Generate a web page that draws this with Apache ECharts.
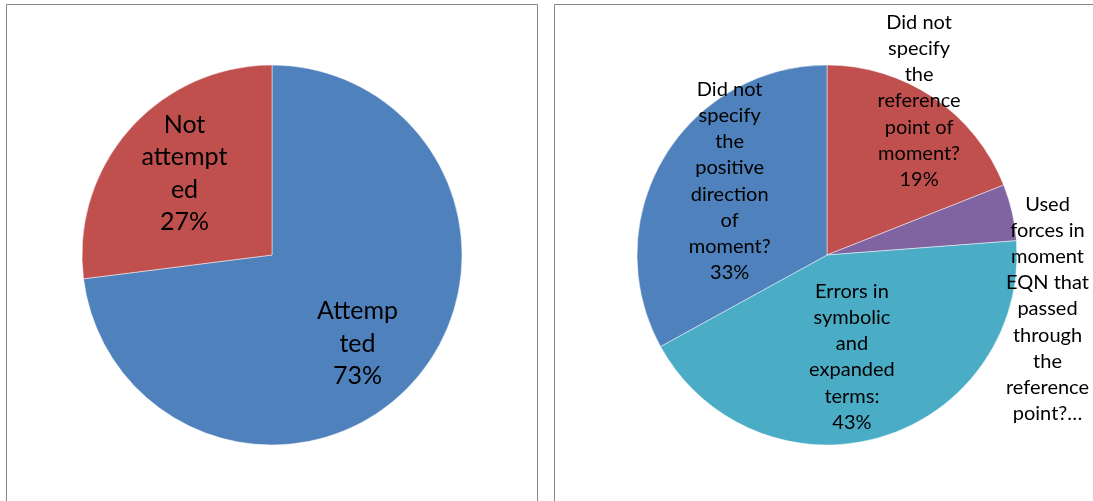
<!DOCTYPE html>
<html><head><meta charset="utf-8">
<script src="https://cdn.jsdelivr.net/npm/echarts@6/dist/echarts.min.js"></script>
<style>html,body{margin:0;padding:0;background:#fff}#c{width:1093px;height:501px}</style>
</head><body><div id="c"></div>
<script>
// Left chart: attempt status
const attemptCategories = ['Attempted', 'Not attempted'];
const attemptValues = [73, 27];
const attemptLabels = ['Attemp\nted', 'Not\nattempt\ned'];
const attemptShowPct = [true, true];

// Right chart: error types
const errorCategories = [
  'Did not specify the reference point of moment?',
  'Used forces in moment EQN that passed through the reference point?',
  'Errors in symbolic and expanded terms:',
  'Did not specify the positive direction of moment?'
];
const errorValues = [19, 4.8, 43.2, 33];
const errorLabels = [
  'Did not\nspecify\nthe\nreference\npoint of\nmoment?',
  'Used\nforces in\nmoment\nEQN that\npassed\nthrough\nthe\nreference\npoint?…',
  'Errors in\nsymbolic\nand\nexpanded\nterms:',
  'Did not\nspecify\nthe\npositive\ndirection\nof\nmoment?'
];
const errorShowPct = [true, false, true, true];

const attemptColors = ['#4F81BD', '#C0504D'];
const errorColors = ['#C0504D', '#8064A2', '#4BACC6', '#4F81BD'];

// label nudges (pixels) relative to ECharts' inside position
const attemptNudge = [[12, 24], [-14, -17]];
const errorNudge = [[37, -73], [125, 76], [-3, 8], [-13, -24]];

function build(cats, vals, labels, showPct, colors) {
  return cats.map((c, i) => ({
    name: c, value: vals[i],
    itemStyle: { color: colors[i] },
    label: { formatter: labels[i] + (showPct[i] ? '\n' + Math.round(vals[i]) + '%' : '') }
  }));
}

const chart = echarts.init(document.getElementById('c'), null, { renderer: 'canvas' });
chart.setOption({
  animation: false,
  backgroundColor: '#fff',
  graphic: [
    { type: 'rect', shape: { x: 6.5, y: 4.5, width: 531, height: 600 }, style: { fill: 'none', stroke: '#878787', lineWidth: 1 } },
    { type: 'rect', shape: { x: 554.5, y: 4.5, width: 600, height: 600 }, style: { fill: 'none', stroke: '#878787', lineWidth: 1 } }
  ],
  series: [
    {
      type: 'pie', center: [272, 255], radius: [0, 190], startAngle: 90, clockwise: true,
      data: build(attemptCategories, attemptValues, attemptLabels, attemptShowPct, attemptColors),
      itemStyle: { borderColor: 'rgba(255,255,255,0.6)', borderWidth: 0.8 },
      label: { position: 'inside', color: '#000', fontFamily: 'Lato', fontSize: 25, lineHeight: 32.5, align: 'center' },
      labelLine: { show: false },
      labelLayout: p => ({ dx: attemptNudge[p.dataIndex][0], dy: attemptNudge[p.dataIndex][1] }),
      emphasis: { disabled: true }
    },
    {
      type: 'pie', center: [827, 255], radius: [0, 190], startAngle: 90, clockwise: true,
      data: build(errorCategories, errorValues, errorLabels, errorShowPct, errorColors),
      itemStyle: { borderColor: 'rgba(255,255,255,0.6)', borderWidth: 0.8 },
      label: { position: 'inside', color: '#000', fontFamily: 'Lato', fontSize: 20, lineHeight: 26.2, align: 'center' },
      labelLine: { show: false },
      labelLayout: p => ({ dx: errorNudge[p.dataIndex][0], dy: errorNudge[p.dataIndex][1] }),
      emphasis: { disabled: true }
    }
  ]
});
</script></body></html>
